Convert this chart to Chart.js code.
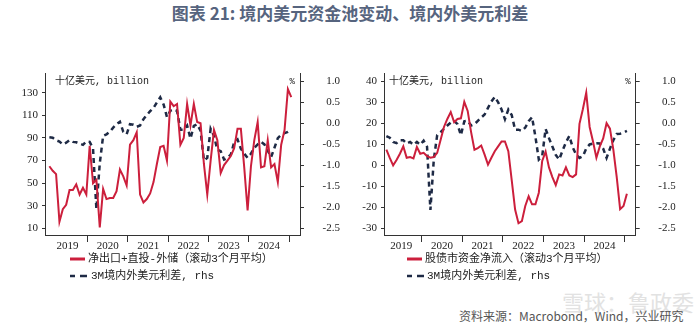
<!DOCTYPE html>
<html lang="zh-CN"><head><meta charset="utf-8">
<title>图表 21</title>
<script src="https://cdn.jsdelivr.net/npm/chart.js@4.4.1/dist/chart.umd.min.js"></script>
<style>
html,body{margin:0;padding:0;background:#fff;}
#wrap{position:relative;width:700px;height:328px;overflow:hidden;background:#fff;}
#title{position:absolute;left:0;top:1px;width:700px;text-align:center;font-family:"Noto Sans CJK SC",sans-serif;font-size:17px;font-weight:bold;color:#56647e;line-height:24px;white-space:nowrap;}
canvas{position:absolute;top:60px;}
#c1{left:0;} #c2{left:350px;}
.lg{position:absolute;font-family:"Liberation Mono","Noto Sans CJK SC",monospace;font-size:11px;color:#222;line-height:14px;white-space:nowrap;}
.sw{position:absolute;}
#src{position:absolute;left:459px;top:307px;font-family:"Noto Sans CJK SC",sans-serif;font-size:12px;color:#555;white-space:nowrap;line-height:18px;}
#wm{position:absolute;left:562px;top:285px;font-family:"Noto Sans CJK SC",sans-serif;font-size:22px;color:#e2e2e2;white-space:nowrap;}
</style></head><body>
<div id="wrap">
 <div id="title">图表 21: 境内美元资金池变动、境内外美元利差</div>
 <canvas id="c1" width="350" height="200"></canvas>
 <canvas id="c2" width="350" height="200"></canvas>

 <svg class="sw" style="left:70px;top:252px" width="18" height="14"><line x1="0" y1="7" x2="15" y2="7" stroke="#cc1f3c" stroke-width="3"/></svg>
 <div class="lg" style="left:88px;top:252px">净出口+直投-外储（滚动3个月平均）</div>
 <svg class="sw" style="left:70px;top:269px" width="20" height="14"><line x1="0" y1="7" x2="5" y2="7" stroke="#1e2a45" stroke-width="2.5"/><line x1="10" y1="7" x2="17" y2="7" stroke="#1e2a45" stroke-width="2.5"/></svg>
 <div class="lg" style="left:91px;top:269px">3M境内外美元利差, rhs</div>

 <svg class="sw" style="left:407px;top:252px" width="18" height="14"><line x1="0" y1="7" x2="15" y2="7" stroke="#cc1f3c" stroke-width="3"/></svg>
 <div class="lg" style="left:425px;top:252px">股债市资金净流入（滚动3个月平均）</div>
 <svg class="sw" style="left:407px;top:269px" width="20" height="14"><line x1="0" y1="7" x2="5" y2="7" stroke="#1e2a45" stroke-width="2.5"/><line x1="10" y1="7" x2="17" y2="7" stroke="#1e2a45" stroke-width="2.5"/></svg>
 <div class="lg" style="left:427px;top:269px">3M境内外美元利差, rhs</div>

 <div id="wm">雪球：鲁政委</div>
 <div id="src">资料来源：Macrobond，Wind，兴业研究</div>
</div>
<script>
// ---- data ----
const yearLabels = ['2019','2020','2021','2022','2023','2024'];
const leftTicks = [10,20,30,40,50,60,70,80,90,100,110,120,130,140];
const rightLeftTicks = [-30,-20,-10,0,10,20,30,40];
const spreadTicks = [-2.5,-2.0,-1.5,-1.0,-0.5,0.0,0.5,1.0];

function monthRange(start, count){
  const out=[]; let [y,m]=start.split('-').map(Number);
  for(let i=0;i<count;i++){ out.push(y+'-'+String(m).padStart(2,'0')); m++; if(m>12){m=1;y++;} }
  return out;
}
const leftMonths = monthRange('2018-12', 73);
const rightMonths = monthRange('2019-01', 72);

// 净出口+直投-外储（滚动3个月平均）, 十亿美元
const netFlowLeft = [65,61,58,16,27,31,44,44,49,40,
  46,40,83,50,53,11,45,36,37,37,
  43,62,56,48,84,88,95,40,33,36,
  41,51,67,82,83,70,122,118,120,84,
  90,120,101,120,104,103,67,40,70,97,
  88,59,66,70,74,81,98,98,64,26,
  65,88,104,64,65,88,64,67,51,84,
  97,133,126];
// 3M境内外美元利差 (left panel), %
const spreadLeft = [-0.33,-0.34,-0.40,-0.43,-0.50,-0.46,-0.40,-0.44,-0.45,-0.48,
  -0.51,-0.43,-0.44,-0.60,-2.04,-0.95,-0.30,-0.26,-0.20,-0.10,
  -0.02,0.04,-0.20,-0.26,-0.02,-0.03,-0.08,-0.05,0.10,0.20,
  0.29,0.37,0.50,0.62,0.45,0.15,0.30,0.33,0.30,-0.15,
  -0.15,-0.05,-0.36,-0.06,-0.02,-0.17,-0.88,-0.82,-0.13,-0.30,
  -0.63,-0.66,-0.86,-0.82,-0.74,-0.45,-0.38,-0.60,-0.72,-0.82,
  -0.72,-0.58,-0.50,-0.44,-0.50,-0.65,-0.80,-0.58,-0.35,-0.27,
  -0.23,-0.20,-0.15];
// 股债市资金净流入（滚动3个月平均）, 十亿美元
const portfolioFlow = [7.5,3.5,0,2.5,5.5,9,3.6,3.9,3.3,8.7,
  5.5,5.9,4.4,3.6,3.9,5.9,12,18.2,22,25.3,
  20.5,22,22.3,30.1,25.8,15.9,7.4,8.2,9.4,5.1,
  0.3,3.6,6.7,9,11.3,11.3,6.7,-7,-21,-27.5,
  -26.5,-19.3,-14.7,-18.5,-18.5,-13,2.1,6.5,-1,-5.6,
  -9.4,-4.3,-4.8,-1,-4.8,-5.6,-4.3,19.7,26.6,34.5,
  18.2,11.3,3.6,9,12.8,20,17.4,7.4,-5.6,-20.8,
  -19.3,-13.5];
// 3M境内外美元利差 (right panel), %
const spreadRight = [-0.30,-0.34,-0.44,-0.47,-0.40,-0.40,-0.48,-0.44,-0.51,-0.44,
  -0.51,-0.41,-0.55,-2.06,-0.86,-0.28,-0.21,-0.13,-0.05,0.02,
  0.06,-0.02,-0.28,0.05,0.06,-0.05,-0.02,0.06,0.14,0.21,
  0.37,0.52,0.63,0.50,0.33,0.10,0.33,0.20,-0.15,-0.15,
  -0.18,-0.10,0.05,0.15,-0.32,-0.86,-0.78,-0.13,-0.35,-0.55,
  -0.75,-0.86,-0.65,-0.45,-0.30,-0.57,-0.74,-0.82,-0.78,-0.60,
  -0.50,-0.48,-0.475,-0.48,-0.60,-0.82,-0.60,-0.40,-0.25,-0.245,
  -0.22,-0.18];

// ---- helpers ----
const RED = '#cc1f3c', NAVY = '#1e2a45', AX = '#333';
function monthPos(label){ const [y,m]=label.split('-').map(Number); return (y-2019)*12 + (m-1) + 1.6; }
function pts(months, vals){ return vals.map((v,i)=>({x:monthPos(months[i]), y:v})); }
const tickFont = {family:'"Liberation Serif", serif', size:11};

const annot = {
  id:'annot',
  afterDraw(chart, args, o){
    const {ctx, chartArea:a} = chart;
    ctx.save();
    ctx.fillStyle = '#222';
    ctx.textBaseline = 'middle';
    ctx.font = '10px "Liberation Mono", "Noto Sans CJK SC"';
    ctx.textAlign = 'left';
    ctx.fillText('十亿美元, billion', a.left + o.dx, a.top + 8);
    ctx.font = '9px "Liberation Mono", "Noto Sans CJK SC"';
    ctx.textAlign = 'right';
    ctx.fillText('%', a.right - 5, a.top + 8);
    ctx.restore();
  }
};

function makeChart(id, o){
  const xTicks = [6,12,18,24,30,36,42,48,54,60,66,72];
  return new Chart(document.getElementById(id), {
    type:'line',
    data:{datasets:[
      {data:o.flow, yAxisID:'y', borderColor:RED, borderWidth:2, pointRadius:0, tension:0, order:1},
      {data:o.spread, yAxisID:'y1', borderColor:NAVY, borderWidth:2.5, borderDash:[5,4], pointRadius:0, tension:0, order:2}
    ]},
    plugins:[annot],
    options:{
      responsive:false, animation:false, devicePixelRatio:1,
      layout:{padding:o.pad},
      plugins:{legend:{display:false}, tooltip:{enabled:false}, annot:{dx:o.dx}},
      scales:{
        x:{type:'linear', min:o.xmin, max:o.xmax,
          afterBuildTicks:s=>{ s.ticks = xTicks.map(v=>({value:v})); },
          afterFit:s=>{ s.height = 20; },
          grid:{drawOnChartArea:false, drawTicks:true, tickLength:7, tickWidth:1,
            tickColor:c=> (c.tick && c.tick.value%12===0) ? AX : 'rgba(0,0,0,0)'},
          border:{display:true, color:AX, width:1},
          ticks:{autoSkip:false, maxRotation:0, padding:-2, font:tickFont, color:'#222',
            callback:v=> v%12===6 ? yearLabels[(v-6)/12] : ''}
        },
        y:{position:'left', min:o.ymin, max:o.ymax,
          afterBuildTicks:s=>{ s.ticks = o.yticks.map(v=>({value:v})); },
          afterFit:s=>{ s.width = o.yw; },
          grid:{drawOnChartArea:false, tickLength:3, tickColor:AX},
          border:{display:true, color:AX, width:1},
          ticks:{padding:4, font:tickFont, color:'#222', callback:o.ylabel}
        },
        y1:{position:'right', min:-2.654, max:1.184,
          afterBuildTicks:s=>{ s.ticks = spreadTicks.map(v=>({value:v})); },
          afterFit:s=>{ s.width = 40; },
          grid:{drawOnChartArea:false, tickLength:4, tickColor:AX},
          border:{display:true, color:AX, width:1},
          ticks:{padding:7, crossAlign:'far', font:tickFont, color:'#222', callback:v=>v.toFixed(1)}
        }
      }
    }
  });
}

makeChart('c1', {
  flow: pts(leftMonths, netFlowLeft), spread: pts(leftMonths, spreadLeft),
  pad:{left:5, right:10, top:8, bottom:5}, dx:10,
  xmin:-0.7, xmax:75.2, ymin:4.28, ymax:146.8, yw:40, yticks:leftTicks,
  ylabel:v=> (v%20===10) ? String(v) : ''
});
makeChart('c2', {
  flow: pts(rightMonths, portfolioFlow), spread: pts(rightMonths, spreadRight),
  pad:{left:4, right:24.3, top:8, bottom:5}, dx:5,
  xmin:0.9, xmax:75.2, ymin:-33.07, ymax:43.53, yw:30, yticks:rightLeftTicks,
  ylabel:v=> String(v)
});
</script>
</body></html>
